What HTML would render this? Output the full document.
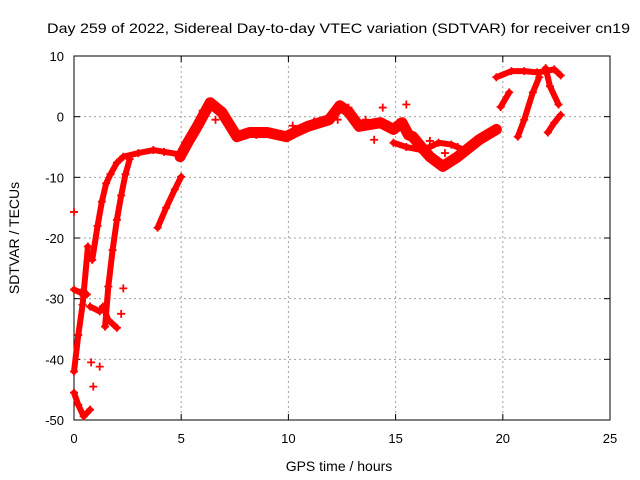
<!DOCTYPE html>
<html><head><meta charset="utf-8"><style>
body{margin:0;background:#fff}
svg{display:block;font-family:"Liberation Sans",sans-serif}
</style></head><body>
<svg width="640" height="480">
<text x="47" y="33" font-size="14" textLength="583" lengthAdjust="spacingAndGlyphs">Day 259 of 2022, Sidereal Day-to-day VTEC variation (SDTVAR) for receiver cn19</text>
<g id="grid"></g>
<g id="axes"></g>
<g id="marks"></g>
<text x="339" y="471" font-size="14" text-anchor="middle">GPS time / hours</text>
<text transform="translate(19,238) rotate(-90)" font-size="14" text-anchor="middle">SDTVAR / TECUs</text>
</svg>
<script>
const xTicks=[0,5,10,15,20,25];
const yTicks=[10,0,-10,-20,-30,-40,-50];
const trackA=[[0,-42],[0.2,-36],[0.4,-31],[0.65,-21.4]];
const trackB=[[0.85,-23.6],[1.1,-18],[1.3,-14],[1.5,-11],[1.7,-9.5],[2.0,-7.6],[2.3,-6.6],[3,-6],[3.7,-5.5],[4.2,-5.8],[4.9,-6.2]];
const trackC=[[1.45,-34.6],[1.6,-28],[1.8,-22],[2.0,-17],[2.2,-13],[2.4,-9.5],[2.6,-7]];
const trackD=[[3.9,-18.3],[4.3,-15],[4.7,-12],[5.0,-9.9]];
const trackBottom=[[0,-45.5],[0.2,-47.5],[0.45,-49.4],[0.75,-48.3]];
const trackMid1=[[0,-28.5],[0.3,-29],[0.6,-29.3]];
const trackMid2=[[0.75,-31.3],[1.2,-32.1]];
const trackMid3=[[1.35,-31.3],[1.6,-33.5],[2.0,-34.8]];
const trackSmall=[[0.8,-40.5],[1.2,-41.2],[0.0,-15.7],[0.9,-44.5],[2.2,-32.5],[2.3,-28.3],[12.3,-0.5],[12.8,1.5],[13.6,-0.5],[14.4,1.5],[15.5,2],[15.1,-1],[14.0,-3.8],[16.6,-4],[17.3,-6],[17.9,-5],[8.5,-3],[6.0,1],[6.6,-0.5],[10.2,-1.5],[11.2,-0.8]];
const trackMain=[[4.95,-6.6],[5.3,-4.3],[5.75,-1.6],[6.35,2.3],[6.9,0.7],[7.6,-3.3],[8.2,-2.6],[9,-2.6],[9.9,-3.3],[10.4,-2.4],[10.9,-1.6],[11.9,-0.5],[12.4,1.8],[12.8,0.8],[13.3,-1.6],[14.3,-1],[14.9,-2.1],[15.3,-1],[15.6,-3],[15.8,-3.3],[16.2,-5],[16.6,-6.6],[17.2,-8.2],[17.9,-6.6],[18.9,-3.8],[19.7,-2.1]];
const trackLoop=[[14.9,-4.3],[15.5,-5],[16.2,-5.5],[16.6,-5],[17,-4.3],[17.6,-4.6],[18.2,-5.5]];
const trackR1=[[19.9,1.6],[20.3,4]];
const trackR2=[[20.7,-3.3],[21,-0.5],[21.4,4],[21.7,6.5]];
const trackR3=[[22.1,-2.6],[22.4,-1],[22.7,0.3]];
const trackR4=[[22.0,8],[22.2,5],[22.6,2]];
const trackTop=[[19.7,6.5],[20.4,7.5],[21,7.5],[21.6,7.3],[22,7.5],[22.4,7.8],[22.7,6.8]];
const tracks=[trackA,trackB,trackC,trackD,trackBottom,trackMid1,trackMid2,trackMid3,trackMain,trackLoop,trackR1,trackR2,trackR3,trackR4,trackTop,trackSmall];
const NS='http://www.w3.org/2000/svg';
const X0=74,X1=610,Y0=56,Y1=420;
const sx=t=>X0+(t-0)/25*(X1-X0);
const sy=v=>Y0+(10-v)/60*(Y1-Y0);
function mk(tag,attrs,parent){const e=document.createElementNS(NS,tag);for(const k in attrs)e.setAttribute(k,attrs[k]);parent.appendChild(e);return e;}
const grid=document.getElementById('grid'),axes=document.getElementById('axes'),marks=document.getElementById('marks');
xTicks.forEach(t=>{const x=sx(t);
 if(t>0&&t<25){const l=mk('line',{x1:x,x2:x,y1:Y0,y2:Y1,stroke:'#a0a0a0','stroke-dasharray':'2,3'},grid);
 
 }
 mk('line',{x1:x,x2:x,y1:Y1,y2:Y1-6,stroke:'#000'},axes);
 mk('line',{x1:x,x2:x,y1:Y0,y2:Y0+6,stroke:'#000'},axes);
 const tx=mk('text',{x:x,y:Y1+23,'font-size':'13','text-anchor':'middle'},axes);tx.textContent=t;
 
 
});
yTicks.forEach(v=>{const y=sy(v);
 if(v<10&&v>-50){const l=mk('line',{x1:X0,x2:X1,y1:y,y2:y,stroke:'#a0a0a0','stroke-dasharray':'2,3'},grid);
 
 }
 mk('line',{x1:X0,x2:X0+6,y1:y,y2:y,stroke:'#000'},axes);
 mk('line',{x1:X1,x2:X1-6,y1:y,y2:y,stroke:'#000'},axes);
 const tx=mk('text',{x:X0-10,y:y+5,'font-size':'13','text-anchor':'end'},axes);tx.textContent=v;
 
 
});
const fr=mk('rect',{x:X0,y:Y0,width:X1-X0,height:Y1-Y0,fill:'none',stroke:'#000'},axes);


tracks.forEach((tr,i)=>{
 if(tr.length>1&&tr!==trackSmall){const pl=mk('polyline',{points:tr.map(p=>sx(p[0])+','+sy(p[1])).join(' '),fill:'none',stroke:'#f00','stroke-width':tr===trackMain?11:6,'stroke-linejoin':'round','stroke-linecap':'round'},marks);
 
 }
 tr.forEach(p=>{const x=sx(p[0]),y=sy(p[1]);
  const g=mk('path',{d:`M${x-4},${y}H${x+4}M${x},${y-4}V${y+4}`,stroke:'#f00','stroke-width':1.8},marks);
  
  
 });
});
</script>
</body></html>
